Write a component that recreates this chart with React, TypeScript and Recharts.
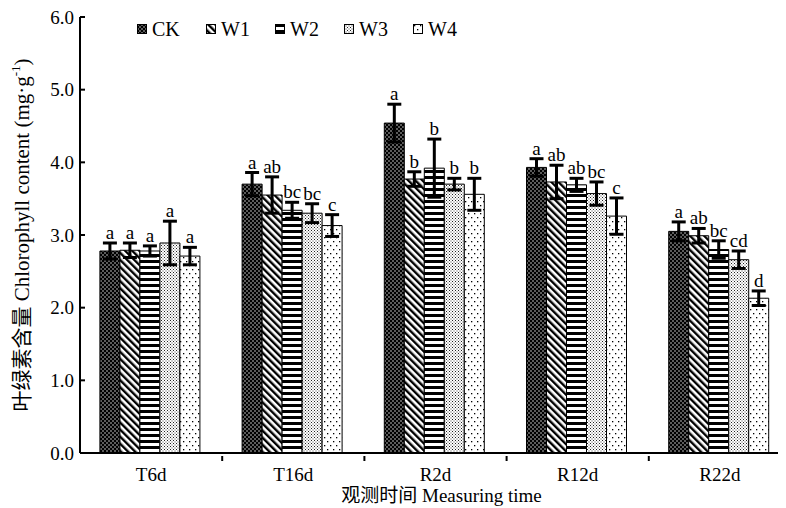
import React from 'react';
import { BarChart, Bar, XAxis, YAxis, ErrorBar, LabelList, Legend, Label } from 'recharts';

const categories = ['T6d', 'T16d', 'R2d', 'R12d', 'R22d'];
const seriesNames = ['CK', 'W1', 'W2', 'W3', 'W4'];

const ckValues = [2.78, 3.7, 4.54, 3.93, 3.05];
const w1Values = [2.79, 3.55, 3.77, 3.73, 2.99];
const w2Values = [2.78, 3.34, 3.92, 3.69, 2.8];
const w3Values = [2.89, 3.3, 3.7, 3.57, 2.66];
const w4Values = [2.71, 3.13, 3.56, 3.26, 2.13];

const ckErr = [0.11, 0.16, 0.26, 0.12, 0.13];
const w1Err = [0.1, 0.25, 0.1, 0.23, 0.1];
const w2Err = [0.07, 0.11, 0.4, 0.09, 0.12];
const w3Err = [0.3, 0.13, 0.08, 0.16, 0.12];
const w4Err = [0.12, 0.15, 0.22, 0.25, 0.1];

const ckSig = ['a', 'a', 'a', 'a', 'a'];
const w1Sig = ['a', 'ab', 'b', 'ab', 'ab'];
const w2Sig = ['a', 'bc', 'b', 'ab', 'bc'];
const w3Sig = ['a', 'bc', 'b', 'bc', 'cd'];
const w4Sig = ['a', 'c', 'b', 'c', 'd'];

const yTicks = [0, 1, 2, 3, 4, 5, 6];

const values = [ckValues, w1Values, w2Values, w3Values, w4Values];
const errors = [ckErr, w1Err, w2Err, w3Err, w4Err];
const sigs = [ckSig, w1Sig, w2Sig, w3Sig, w4Sig];

const data = categories.map((name, i) => {
  const row: any = { name };
  seriesNames.forEach((s, k) => {
    row[s] = values[k][i];
    row[s + '_err'] = errors[k][i];
    row[s + '_sig'] = sigs[k][i];
  });
  return row;
});

const FONT = "'Liberation Serif', 'Times New Roman', 'Noto Sans CJK SC', serif";

const Patterns = () => (
  <defs>
    <pattern id="pCK" width="4" height="4" patternUnits="userSpaceOnUse">
      <rect width="4" height="4" fill="#000" />
      <rect x="0.4" y="0.4" width="1.2" height="1.2" fill="#fff" />
      <rect x="2.4" y="2.4" width="1.2" height="1.2" fill="#fff" />
    </pattern>
    <pattern id="pW1" width="5" height="5" patternUnits="userSpaceOnUse" patternTransform="rotate(-45)">
      <rect width="5" height="5" fill="#fff" />
      <rect width="2.4" height="5" fill="#000" />
    </pattern>
    <pattern id="pW2" width="6" height="6" patternUnits="userSpaceOnUse">
      <rect width="6" height="6" fill="#fff" />
      <rect width="6" height="3" fill="#000" />
    </pattern>
    <pattern id="pW3" width="3" height="3" patternUnits="userSpaceOnUse">
      <rect width="3" height="3" fill="#fff" />
      <rect width="1" height="1" fill="#222" />
      <rect x="1.5" y="1.5" width="1" height="1" fill="#444" />
    </pattern>
    <pattern id="pW4" width="6" height="8" patternUnits="userSpaceOnUse">
      <rect width="6" height="8" fill="#fff" />
      <rect x="1" y="1" width="1.3" height="1.3" fill="#000" />
      <rect x="4" y="5" width="1.3" height="1.3" fill="#000" />
    </pattern>
  </defs>
);

const sigLabel = (errArr: number[], valArr: number[]) => (props: any) => {
  const { x, y, width, height, value, index } = props;
  if (x == null || index == null) return null;
  const perUnit = height / valArr[index];
  const top = y - errArr[index] * perUnit;
  return (
    <text x={x + width / 2} y={top - 4} textAnchor="middle" fontSize={19} fontFamily={FONT} fill="#000">
      {value}
    </text>
  );
};

const XTick = (props: any) => {
  const { x, y, payload, index } = props;
  const half = payload && payload.offset != null ? payload.offset : 71;
  return (
    <g>
      {index > 0 && <line x1={x - half} x2={x - half} y1={y} y2={y - 5} stroke="#000" strokeWidth={2} />}
      <text x={x} y={y + 6} dy="0.75em" textAnchor="middle" fontSize={19} fontFamily={FONT} fill="#000">
        {payload.value}
      </text>
    </g>
  );
};

const YTitle = (props: any) => {
  const vb = props.viewBox || {};
  const cx = vb.x + 14;
  const cy = vb.y + vb.height / 2;
  return (
    <text
      x={cx}
      y={cy}
      transform={`rotate(-90, ${cx}, ${cy})`}
      textAnchor="middle"
      dominantBaseline="central"
      fontSize={21}
      fontFamily={FONT}
      fill="#000"
    >
      叶绿素含量 Chlorophyll content (mg·g
      <tspan fontSize={13} dy={-7}>-1</tspan>
      <tspan dy={7}>)</tspan>
    </text>
  );
};

const LegendContent = () => (
  <div style={{ display: 'flex', fontFamily: FONT, fontSize: 20, color: '#000' }}>
    {seriesNames.map((s) => (
      <div key={s} style={{ display: 'flex', alignItems: 'center', width: 69 }}>
        <svg width={12} height={11} style={{ marginRight: 3 }}>
          <rect x={0.5} y={0.5} width={9} height={9} fill={`url(#p${s})`} stroke="#000" />
        </svg>
        <span>{s}</span>
      </div>
    ))}
  </div>
);

export default function App() {
  return (
    <div style={{ width: 778, height: 500, overflow: 'hidden' }}>
      <BarChart
        width={778}
        height={500}
        data={data}
        margin={{ top: 9, right: -5, bottom: 0, left: 0 }}
        barCategoryGap="14%"
        barGap={0}
      >
        <Patterns />
        <XAxis
          dataKey="name"
          height={55}
          tickLine={false}
          axisLine={{ stroke: '#000', strokeWidth: 2 }}
          tick={<XTick />}
          interval={0}
        >
          <Label
            value="观测时间 Measuring time"
            position="insideBottom"
            offset={6}
            dx={6}
            style={{ fontSize: 19, fontFamily: FONT, fill: '#000' }}
          />
        </XAxis>
        <YAxis
          width={72}
          domain={[0, 6]}
          ticks={yTicks}
          interval={0}
          tickFormatter={(v: number) => v.toFixed(1)}
          tickSize={-5}
          tickMargin={11}
          tickLine={{ stroke: '#000', strokeWidth: 2 }}
          axisLine={{ stroke: '#000', strokeWidth: 2 }}
          tick={{ fontSize: 19, fontFamily: FONT, fill: '#000' }}
        >
          <Label content={<YTitle />} />
        </YAxis>
        <Legend
          layout="horizontal"
          verticalAlign="middle"
          align="center"
          content={<LegendContent />}
          wrapperStyle={{ top: 10, left: 129, width: 360, height: 24 }}
        />
        {seriesNames.map((s, k) => (
          <Bar
            key={s}
            dataKey={s}
            fill={`url(#p${s})`}
            stroke="#000"
            strokeWidth={1}
            isAnimationActive={false}
          >
            <ErrorBar dataKey={s + '_err'} width={7} strokeWidth={3} stroke="#000" direction="y" />
            <LabelList dataKey={s + '_sig'} content={sigLabel(errors[k], values[k])} />
          </Bar>
        ))}
      </BarChart>
    </div>
  );
}
